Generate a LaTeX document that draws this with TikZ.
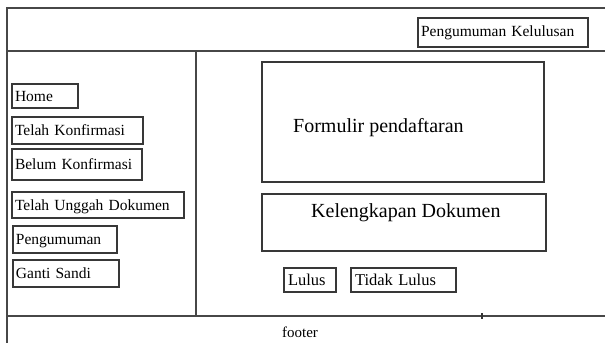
\documentclass[tikz,border=0pt]{standalone}
\usepackage{fontspec}
\setmainfont{Liberation Serif}
\begin{document}
\begin{tikzpicture}[x=1pt,y=-1pt,
  frame/.style={draw=black!72,line width=1.5pt},
  box/.style={draw=black!78,line width=1.3pt,anchor=north west,inner sep=0pt,
    outer sep=0pt},
  menu/.style={box,font=\fontsize{15.5}{16}\selectfont,align=left,
    inner xsep=3pt,text depth=0pt},
  btn/.style={box,font=\fontsize{16.5}{17}\selectfont,align=left,inner xsep=4pt},
  big/.style={font=\fontsize{20}{21}\selectfont,anchor=west,inner sep=0pt}
]
\useasboundingbox (0,0) rectangle (605,343);

% page frame: header, sidebar, footer
\coordinate (tl) at (7,8);
\coordinate (tr) at (605,8);
\coordinate (hl) at (7,51);
\coordinate (hr) at (605,51);
\coordinate (fl) at (7,316);
\coordinate (fr) at (605,316);
\coordinate (bl) at (7,343);
\coordinate (dtop) at (196,51);
\coordinate (dbot) at (196,316);
\coordinate (tick1) at (482,313);
\coordinate (tick2) at (482,319);
\draw[frame] (tr) -- (tl) -- (bl);
\draw[frame] (hl) -- (hr);
\draw[frame] (fl) -- (fr);
\draw[frame] (dtop) -- (dbot);
\draw[black!80,line width=1.2pt] (tick1) -- (tick2);

% header button
\node[btn,font=\fontsize{15.5}{16}\selectfont,inner xsep=3pt,
  minimum width=170pt,minimum height=29pt,text width=164pt]
  (kelulusan) at (418,18) {Pengumuman Kelulusan};

% sidebar menu
\node[menu,minimum width=66pt,minimum height=24pt,text width=60pt]
  (home) at (12,84) {Home};
\node[menu,minimum width=131pt,minimum height=27pt,text width=125pt]
  (telahk) at (12,117) {Telah Konfirmasi};
\node[menu,minimum width=130pt,minimum height=31pt,text width=124pt]
  (belumk) at (12,149) {Belum Konfirmasi};
\node[menu,minimum width=172pt,minimum height=26pt,text width=166pt]
  (unggah) at (12,192) {Telah Unggah Dokumen};
\node[menu,minimum width=104pt,minimum height=27pt,text width=98pt]
  (pengumuman) at (13,226) {Pengumuman};
\node[menu,minimum width=106pt,minimum height=27pt,text width=100pt]
  (sandi) at (13,260) {Ganti Sandi};

% content area
\node[box,minimum width=282pt,minimum height=120pt] (formulir) at (262,62) {};
\node[big] (formulirtxt) at (293,128) {Formulir pendaftaran};
\node[box,minimum width=284pt,minimum height=57pt] (dokumen) at (262,194) {};
\node[big] (dokumentxt) at (311,213) {Kelengkapan Dokumen};

\node[btn,minimum width=52pt,minimum height=24pt,text width=44pt]
  (lulus) at (284,268) {Lulus};
\node[btn,minimum width=105pt,minimum height=24pt,text width=97pt]
  (tidak) at (351,268) {Tidak Lulus};

% footer
\node[font=\fontsize{15}{16}\selectfont,inner sep=0pt] (footer) at (300,332) {footer};
\end{tikzpicture}
\end{document}
